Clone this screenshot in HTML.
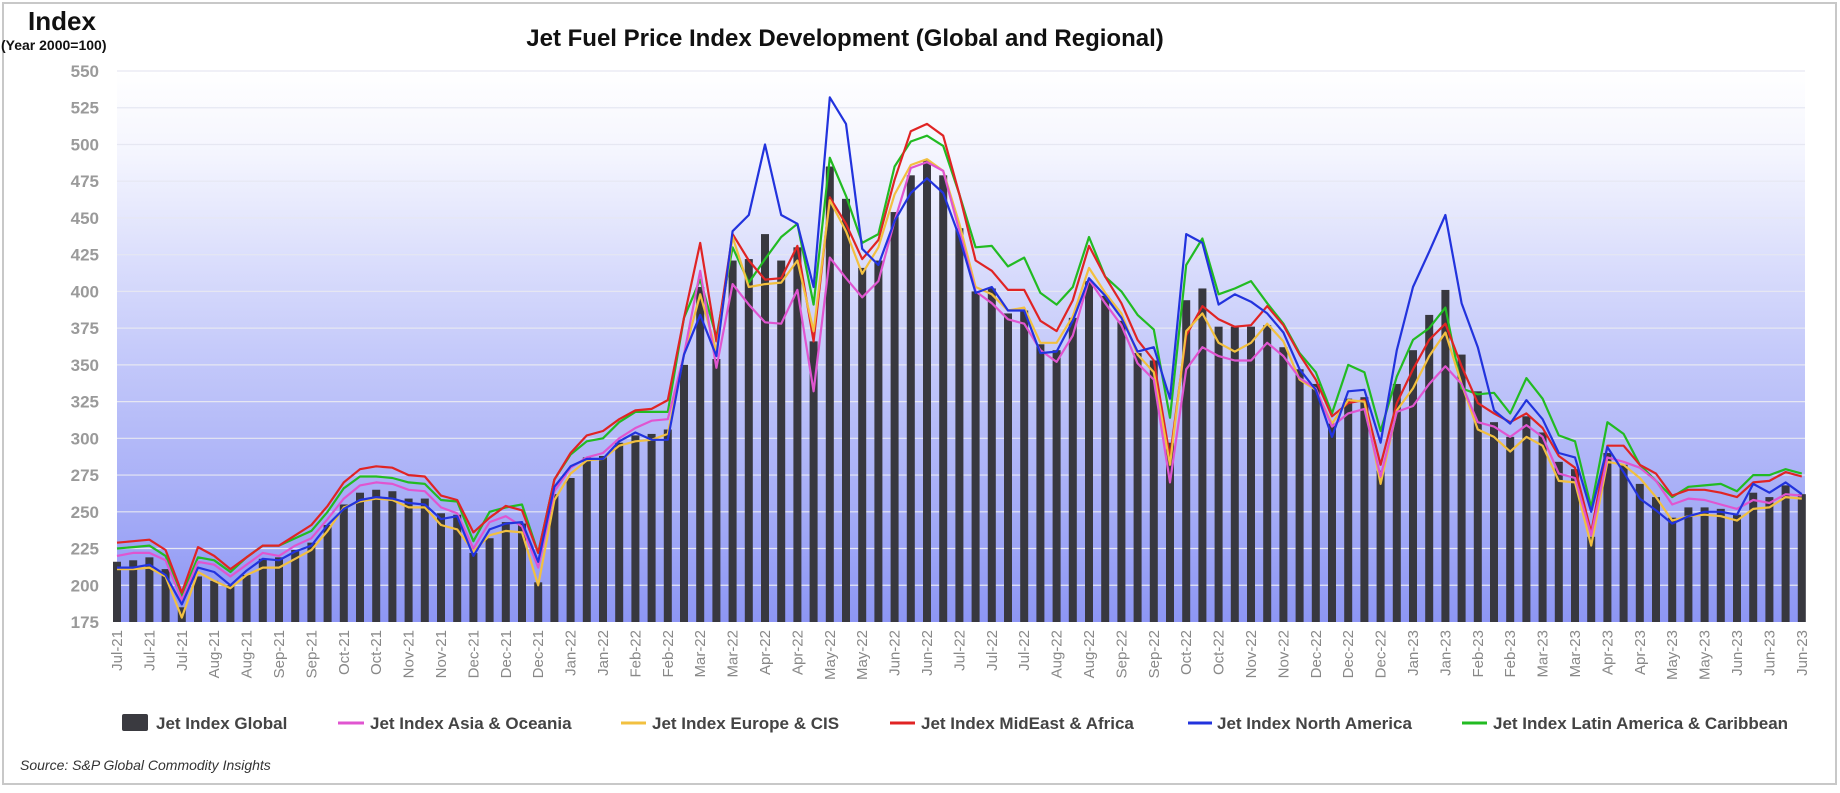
<!DOCTYPE html>
<html><head><meta charset="utf-8">
<style>
html,body{margin:0;padding:0;background:#fff;}
body{width:1840px;height:788px;overflow:hidden;font-family:"Liberation Sans",sans-serif;}
</style></head>
<body>
<svg id="chart" width="1840" height="788" xmlns="http://www.w3.org/2000/svg">
<defs>
<linearGradient id="bg" x1="0" y1="0" x2="0" y2="1">
<stop offset="0" stop-color="#ffffff"/>
<stop offset="0.15" stop-color="#f4f5fe"/>
<stop offset="0.5" stop-color="#c6cbfa"/>
<stop offset="1" stop-color="#8d96f4"/>
</linearGradient>
</defs>
<rect x="3" y="3" width="1833" height="781" fill="#fff" stroke="#c8c8c8" stroke-width="2"/>
<text x="28" y="30" font-size="26" font-weight="bold" fill="#111">Index</text>
<text x="1" y="50" font-size="14" font-weight="bold" fill="#111">(Year 2000=100)</text>
<text x="845" y="46" font-size="24" font-weight="bold" fill="#111" text-anchor="middle">Jet Fuel Price Index Development (Global and Regional)</text>
<rect x="117" y="71" width="1688" height="551" fill="url(#bg)"/>
<g id="grid"></g><g id="bars"></g><g id="lines"></g><g id="xlabels"></g>
<g id="legend">
<rect x="122" y="714" width="26" height="17" rx="2" fill="#3a3a40"/>
<text x="156" y="729" font-size="17" font-weight="bold" fill="#444">Jet Index Global</text>
<line x1="338" y1="723" x2="364" y2="723" stroke="#e055d0" stroke-width="3"/>
<text x="370" y="729" font-size="17" font-weight="bold" fill="#444">Jet Index Asia &amp; Oceania</text>
<line x1="621" y1="723" x2="646" y2="723" stroke="#f2c040" stroke-width="3"/>
<text x="652" y="729" font-size="17" font-weight="bold" fill="#444">Jet Index Europe &amp; CIS</text>
<line x1="890" y1="723" x2="915" y2="723" stroke="#e02424" stroke-width="3"/>
<text x="921" y="729" font-size="17" font-weight="bold" fill="#444">Jet Index MidEast &amp; Africa</text>
<line x1="1188" y1="723" x2="1212" y2="723" stroke="#2233dd" stroke-width="3"/>
<text x="1217" y="729" font-size="17" font-weight="bold" fill="#444">Jet Index North America</text>
<line x1="1462" y1="723" x2="1487" y2="723" stroke="#22bb22" stroke-width="3"/>
<text x="1493" y="729" font-size="17" font-weight="bold" fill="#444">Jet Index Latin America &amp; Caribbean</text>
</g>
<text x="20" y="770" font-size="14" font-style="italic" fill="#333">Source:  S&amp;P Global Commodity Insights</text>
</svg>
<script>
const yTicks=[175,200,225,250,275,300,325,350,375,400,425,450,475,500,525,550];
const xLabels=["Jul-21","Jul-21","Jul-21","Aug-21","Aug-21","Sep-21","Sep-21","Oct-21","Oct-21","Nov-21","Nov-21","Dec-21","Dec-21","Dec-21","Jan-22","Jan-22","Feb-22","Feb-22","Mar-22","Mar-22","Apr-22","Apr-22","May-22","May-22","Jun-22","Jun-22","Jul-22","Jul-22","Jul-22","Aug-22","Aug-22","Sep-22","Sep-22","Oct-22","Oct-22","Nov-22","Nov-22","Dec-22","Dec-22","Dec-22","Jan-23","Jan-23","Feb-23","Feb-23","Mar-23","Mar-23","Apr-23","Apr-23","May-23","May-23","Jun-23","Jun-23","Jun-23"];
const globalIdx=[216,217,219,211,185,206,203,200,207,218,219,224,229,241,255,263,265,264,259,259,249,248,222,232,243,242,202,262,273,287,288,297,302,303,306,350,403,354,421,422,439,421,430,366,485,463,416,421,454,479,489,479,443,400,402,385,387,364,360,382,407,397,380,358,353,297,394,402,376,376,376,377,362,347,337,310,327,328,278,337,360,384,401,357,332,311,301,315,304,284,279,233,290,282,269,260,246,253,253,252,248,263,260,268,262];
const asiaIdx=[220,222,222,217,190,216,214,206,214,222,220,227,232,245,259,268,270,269,265,264,253,249,225,243,247,240,212,264,280,287,290,300,307,312,313,357,414,348,405,391,379,378,401,332,423,409,396,407,448,484,488,482,441,400,392,381,378,360,352,370,408,392,377,351,340,270,347,362,356,353,353,365,356,341,334,308,317,320,274,318,322,337,349,337,311,308,301,309,301,276,273,234,287,284,280,271,255,259,258,255,252,258,256,262,261];
const europeIdx=[211,211,212,206,178,209,203,198,207,212,212,218,224,237,253,257,259,258,253,253,241,238,223,234,237,236,200,258,276,285,286,295,298,299,303,357,398,359,437,403,405,406,421,373,462,441,412,430,466,486,490,482,446,403,398,387,389,365,365,383,416,399,385,357,345,282,373,385,365,359,365,378,366,340,333,310,326,325,269,319,334,356,372,337,306,301,291,301,295,271,270,227,284,282,273,260,244,247,248,247,244,252,253,260,259];
const mideastIdx=[229,230,231,224,195,226,220,211,219,227,227,234,241,254,270,279,281,280,275,274,261,258,236,246,254,251,222,272,290,302,305,313,319,320,326,382,433,366,439,421,408,409,431,366,464,446,422,435,476,509,514,506,466,421,414,401,401,380,373,394,431,410,392,367,353,287,370,390,381,376,377,390,377,357,340,315,324,326,282,324,347,367,378,349,324,317,311,317,307,288,280,236,295,295,282,276,261,265,265,263,260,270,271,277,274];
const namericaIdx=[212,212,214,207,187,212,209,200,210,218,217,223,227,241,252,258,260,259,256,255,245,247,220,238,242,243,216,267,281,286,286,298,304,299,299,357,384,356,441,452,500,452,446,403,532,514,429,418,448,467,477,467,437,399,403,387,387,358,359,380,409,397,382,359,362,327,439,433,391,398,393,385,372,347,333,301,332,333,297,360,403,427,452,392,362,319,310,326,313,290,287,250,294,277,259,251,242,247,250,250,248,269,263,270,262];
const latamIdx=[225,226,227,220,193,219,217,209,219,227,227,232,237,250,266,274,274,273,270,269,258,257,230,250,253,255,222,272,289,298,300,311,318,318,318,382,408,369,430,406,422,437,446,391,491,465,433,439,485,502,506,499,466,430,431,417,423,399,391,403,437,410,400,384,374,314,418,436,398,402,407,392,378,358,345,317,350,345,305,342,367,375,389,334,330,331,317,341,327,302,298,253,311,303,282,271,260,267,268,269,264,275,275,279,276];

const NS="http://www.w3.org/2000/svg";
const X0=117, PITCH=16.2, Y0=71, Y1=622, VMIN=175, VMAX=550;
function xPos(i){return X0+PITCH*i;}
function yPos(v){return Y1-(v-VMIN)/(VMAX-VMIN)*(Y1-Y0);}
function mk(tag,attrs,parent){const e=document.createElementNS(NS,tag);for(const k in attrs)e.setAttribute(k,attrs[k]);parent.appendChild(e);return e;}

const grid=document.getElementById('grid');
yTicks.forEach(t=>{
  const y=yPos(t);
  if(t>VMIN){
    const gl=mk('line',{x1:X0,x2:1805,y1:y,y2:y,stroke:'#e6e7f2','stroke-width':1.2},grid);
    
    
  }
  const tl=mk('text',{x:99,y:y+6,'font-size':17,'font-weight':'bold',fill:'#9a9a9a','text-anchor':'end'},grid);
  tl.textContent=t;
  
  
});

const bars=document.getElementById('bars');
globalIdx.forEach((v,i)=>{
  const y=yPos(v);
  const b=mk('rect',{x:xPos(i)-4,y:y,width:8,height:Y1-y,fill:'#38383f'},bars);
  
  
});

const lines=document.getElementById('lines');
const seriesList=[[latamIdx,'#22bb22','line-latin-america'],[mideastIdx,'#e02424','line-mideast'],[europeIdx,'#f2c040','line-europe'],[asiaIdx,'#e055d0','line-asia'],[namericaIdx,'#2233dd','line-north-america']];
seriesList.forEach(s=>{
  const pts=s[0].map((v,i)=>xPos(i).toFixed(1)+','+yPos(v).toFixed(1)).join(' ');
  const p=mk('polyline',{points:pts,fill:'none',stroke:s[1],'stroke-width':2.2,'stroke-linejoin':'round'},lines);
  
  
});

const xl=document.getElementById('xlabels');
xLabels.forEach((l,k)=>{
  const x=xPos(2*k);
  const t=mk('text',{x:0,y:0,'font-size':15,fill:'#888','text-anchor':'end',transform:'translate('+(x+5)+',630) rotate(-90)'},xl);
  t.textContent=l;
  
  
});
</script>
</body></html>
